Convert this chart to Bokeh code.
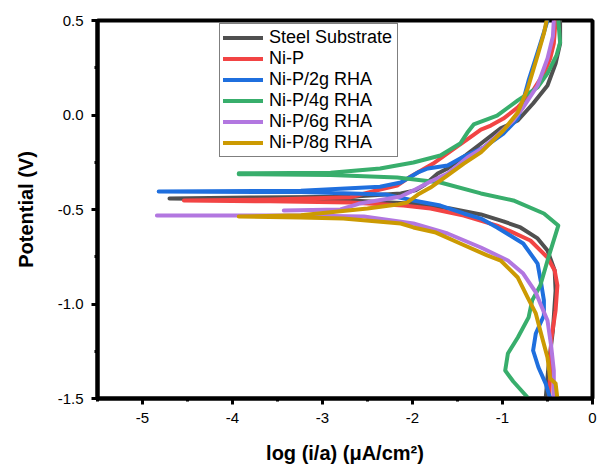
from bokeh.plotting import figure
from bokeh.models import Legend, LegendItem, SingleIntervalTicker, PrintfTickFormatter
from bokeh.embed import file_html
from bokeh.resources import INLINE

nan = float("nan")

series_names = ["Steel Substrate", "Ni-P", "Ni-P/2g RHA", "Ni-P/4g RHA", "Ni-P/6g RHA", "Ni-P/8g RHA"]
series_colors = ["#505050", "#f24444", "#1f6fde", "#38ae6c", "#b277e0", "#cc9a02"]

# log current density (x) and potential in V (y), cathodic branch from bottom, then anodic branch
steel_x = [-0.52, -0.49, -0.44, -0.41, -0.42, -0.50, -0.61, -0.80, -0.99, -1.24, -1.58, -2.02, -2.69, -3.80, -4.70,
           -3.80, -2.69, -2.13, -1.97, -1.86, -1.72, -1.61, -1.41, -1.21, -1.02, -0.83, -0.66, -0.50, -0.41, -0.36, -0.36]
steel_y = [-1.50, -1.336, -1.14, -0.929, -0.823, -0.717, -0.653, -0.595, -0.563, -0.526, -0.495, -0.468, -0.452, -0.447, -0.442,
           -0.437, -0.433, -0.415, -0.399, -0.368, -0.31, -0.283, -0.214, -0.14, -0.071, -0.029, 0.061, 0.156, 0.272, 0.378, 0.5]

nip_x = [-0.48, -0.47, -0.46, -0.41, -0.39, -0.42, -0.50, -0.69, -0.91, -1.06, -1.43, -1.80, -2.10, -2.69, -3.58, -4.54,
         -3.58, -2.69, -2.36, -2.17, -2.02, -1.77, -1.58, -1.36, -1.24, -1.13, -0.99, -0.83, -0.66, -0.54, -0.47, -0.43, -0.41]
nip_y = [-1.5, -1.352, -1.193, -1.034, -0.902, -0.823, -0.754, -0.664, -0.616, -0.585, -0.532, -0.495, -0.479, -0.463, -0.457, -0.452,
         -0.447, -0.435, -0.394, -0.373, -0.325, -0.257, -0.193, -0.119, -0.077, -0.056, -0.019, 0.040, 0.130, 0.220, 0.299, 0.378, 0.5]

rha2_x = [-0.47, -0.52, -0.60, -0.66, -0.63, -0.54, -0.54, -0.57, -0.61, -0.77, -1.06, -1.24, -1.43, -1.69, -1.99, -2.30, -3.24, -4.82,
          -3.24, -2.36, -2.13, -1.94, -1.83, -1.61, -1.43, -1.21, -0.99, -0.83, -0.77, -0.71, -0.61, -0.54, -0.50]
rha2_y = [-1.5, -1.421, -1.336, -1.246, -1.156, -1.061, -0.981, -0.892, -0.786, -0.680, -0.595, -0.548, -0.521, -0.479, -0.452, -0.421, -0.408, -0.405,
          -0.401, -0.380, -0.357, -0.304, -0.283, -0.267, -0.220, -0.172, -0.098, -0.019, 0.077, 0.183, 0.331, 0.437, 0.5]

rha4_x = [-0.71, -0.88, -0.97, -0.94, -0.83, -0.71, -0.67, -0.58, -0.49, -0.38, -0.54, -0.88, -1.24, -1.69, -2.17, -2.91, -3.93,
          -3.93, -2.91, -2.36, -1.99, -1.69, -1.47, -1.39, -1.32, -1.06, -0.83, -0.61, -0.50, -0.40, -0.36, -0.38]
rha4_y = [-1.5, -1.41, -1.352, -1.262, -1.177, -1.071, -0.981, -0.902, -0.754, -0.585, -0.521, -0.452, -0.415, -0.357, -0.331, -0.318, -0.313,
          -0.308, -0.306, -0.283, -0.251, -0.214, -0.151, -0.093, -0.050, -0.003, 0.077, 0.146, 0.220, 0.315, 0.384, 0.5]

rha6_x = [-0.43, -0.43, -0.46, -0.50, -0.58, -0.63, -0.77, -0.94, -1.24, -1.61, -1.99, -2.54, -3.24, -4.84, nan,
          -3.43, -2.80, -2.60, -2.13, -1.99, -1.80, -1.61, -1.39, -1.21, -1.06, -0.88, -0.77, -0.61, -0.50, -0.44, -0.43]
rha6_y = [-1.5, -1.352, -1.220, -1.087, -0.997, -0.939, -0.839, -0.770, -0.701, -0.627, -0.574, -0.537, -0.532, -0.532, nan,
          -0.505, -0.500, -0.470, -0.431, -0.399, -0.352, -0.310, -0.225, -0.172, -0.108, -0.029, 0.040, 0.156, 0.299, 0.415, 0.5]

rha8_x = [-0.39, -0.41, -0.47, -0.50, -0.56, -0.63, -0.72, -0.83, -1.02, -1.17, -1.47, -1.74, -1.99, -2.13, -2.77, -3.24, -3.93,
          -3.24, -2.50, -2.17, -2.06, -1.94, -1.80, -1.61, -1.43, -1.24, -0.99, -0.83, -0.72, -0.61, -0.54, -0.51]
rha8_y = [-1.5, -1.421, -1.394, -1.283, -1.177, -1.050, -0.966, -0.860, -0.770, -0.743, -0.680, -0.622, -0.595, -0.574, -0.548, -0.542, -0.537,
          -0.530, -0.495, -0.474, -0.463, -0.421, -0.384, -0.320, -0.257, -0.198, -0.082, 0.013, 0.140, 0.315, 0.431, 0.5]

xs = [steel_x, nip_x, rha2_x, rha4_x, rha6_x, rha8_x]
ys = [steel_y, nip_y, rha2_y, rha4_y, rha6_y, rha8_y]

p = figure(frame_width=495, frame_height=378, x_range=(-5.5, 0), y_range=(-1.5, 0.5),
           output_backend="svg", toolbar_location=None,
           min_border_left=97, min_border_right=5, min_border_top=20, min_border_bottom=68,
           background_fill_color="white", border_fill_color="white")

p.xgrid.grid_line_color = None
p.ygrid.grid_line_color = None
p.outline_line_color = "black"
p.outline_line_width = 4
p.outline_line_alpha = 1.0

p.xaxis.ticker = SingleIntervalTicker(interval=1, num_minor_ticks=2)
p.yaxis.ticker = SingleIntervalTicker(interval=0.5, num_minor_ticks=2)
p.xaxis.formatter = PrintfTickFormatter(format="%d")
p.yaxis.formatter = PrintfTickFormatter(format="%.1f")

for ax in (p.xaxis, p.yaxis):
    ax.axis_line_width = 4
    ax.axis_line_color = "black"
    ax.major_tick_in = 0
    ax.major_tick_out = 6
    ax.minor_tick_in = 0
    ax.minor_tick_out = 3
    ax.major_tick_line_width = 3
    ax.minor_tick_line_width = 3
    ax.major_tick_line_color = "black"
    ax.minor_tick_line_color = "black"
    ax.major_label_text_font = "Liberation Sans"
    ax.major_label_text_font_size = "15px"
    ax.major_label_text_color = "black"
    ax.axis_label_text_font = "Liberation Sans"
    ax.axis_label_text_font_style = "bold"
    ax.axis_label_text_font_size = "20px"
    ax.axis_label_text_color = "black"

p.xaxis.axis_label = "log (i/a) (\u03bcA/cm\u00b2)"
p.yaxis.axis_label = "Potential (V)"
p.xaxis.major_label_standoff = 8
p.yaxis.major_label_standoff = 8
p.xaxis.axis_label_standoff = 16
p.yaxis.axis_label_standoff = 18

items = []
for name, color, x, y in zip(series_names, series_colors, xs, ys):
    r = p.line(x, y, line_color=color, line_width=4, line_cap="round", line_join="round")
    items.append(LegendItem(label=name, renderers=[r]))

legend = Legend(items=items, location=(122, 241))
legend.border_line_color = "black"
legend.border_line_width = 1
legend.background_fill_color = "white"
legend.background_fill_alpha = 1.0
legend.label_text_font = "Liberation Sans"
legend.label_text_font_size = "18px"
legend.label_text_color = "black"
legend.glyph_width = 40
legend.glyph_height = 21
legend.label_height = 21
legend.label_width = 125
legend.label_standoff = 6
legend.spacing = 0
legend.padding = 3
legend.margin = 0
p.add_layout(legend)

open("out.html", "w").write(file_html(p, INLINE))
